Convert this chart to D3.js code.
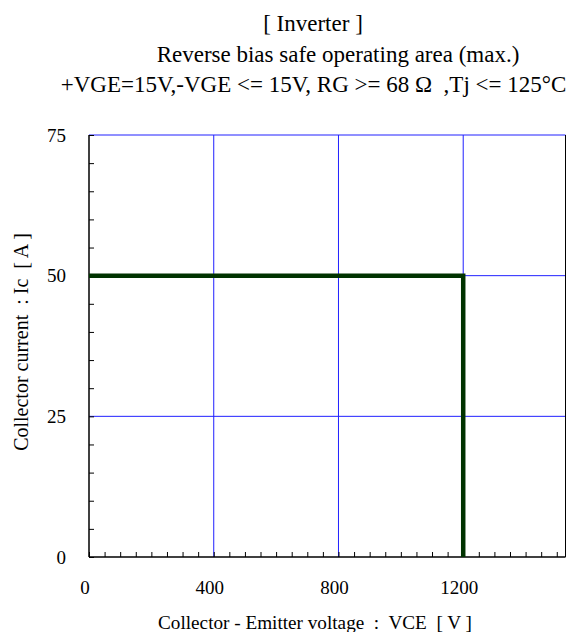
<!DOCTYPE html>
<html><head><meta charset="utf-8">
<script src="https://cdn.jsdelivr.net/npm/d3@7"></script>
<style>body{margin:0;background:#fff}svg{display:block}text{font-family:"Liberation Serif","Times New Roman",serif;fill:#000;white-space:pre}</style>
</head><body><svg id="c" width="570" height="632"></svg>
<script>
const titleLines = ["[ Inverter ]", "Reverse bias safe operating area (max.)", "+VGE=15V,-VGE <= 15V, RG >= 68 \u03A9  ,Tj <= 125\u00B0C"];
const xLabel = "Collector - Emitter voltage  :  VCE  [ V ]";
const yLabel = "Collector current  : Ic  [ A ]";
const xTicks = [0, 400, 800, 1200];
const yTicks = [0, 25, 50, 75];
const vce = [0, 1200, 1200];
const ic = [50, 50, 0];

const svg = d3.select("#c");
const L = 89, R = 565.5, T = 135, B = 557;
const x = d3.scaleLinear().domain([0, 1528]).range([L, R]);
const y = d3.scaleLinear().domain([0, 75]).range([B, T]);

// titles
const tpos = [[313, 31], [338, 62], [313.5, 92]];
titleLines.forEach((t, i) => svg.append("text").attr("x", tpos[i][0]).attr("y", tpos[i][1])
  .attr("text-anchor", "middle").attr("font-size", 23).text(t));

// grid
const g = svg.append("g");
g.selectAll(".gx").data(xTicks.filter(d => d > 0)).join("line")
  .attr("x1", d => x(d)).attr("x2", d => x(d)).attr("y1", T).attr("y2", B)
  .attr("stroke", "#2020ff").attr("stroke-width", 1);
g.selectAll(".gy").data(yTicks.filter(d => d > 0)).join("line")
  .attr("x1", L).attr("x2", R).attr("y1", d => y(d)).attr("y2", d => y(d))
  .attr("stroke", "#2020ff").attr("stroke-width", 1);

// right border
svg.append("line").attr("x1", R).attr("x2", R).attr("y1", T).attr("y2", B).attr("stroke", "#000").attr("stroke-width", 1);

// axes with minor inward ticks
const xAxis = d3.axisBottom(x).tickValues(d3.range(0, 1501, 50)).tickSize(-5).tickFormat("");
svg.append("g").attr("transform", `translate(0,${B})`).call(xAxis)
  .call(s => s.select(".domain").attr("d", `M${L},0H${R}`).attr("stroke-width", 1.5))
  .call(s => s.selectAll(".tick line").attr("stroke-width", 1));
const yAxis = d3.axisLeft(y).tickValues(d3.range(0, 76, 5)).tickSize(-5).tickFormat("");
svg.append("g").attr("transform", `translate(${L},0)`).call(yAxis)
  .call(s => s.select(".domain").attr("d", `M0,${B}V${T}`).attr("stroke-width", 1.5));

// tick labels
svg.selectAll(".xl").data(xTicks).join("text").attr("x", d => x(d) - 4).attr("y", 594)
  .attr("text-anchor", "middle").attr("font-size", 19).text(d => d);
svg.selectAll(".yl").data(yTicks).join("text").attr("x", 66).attr("y", d => y(d) + 6.5)
  .attr("text-anchor", "end").attr("font-size", 19).text(d => d);

// axis titles
svg.append("text").attr("x", 315).attr("y", 629).attr("text-anchor", "middle").attr("font-size", 19.2).text(xLabel);
svg.append("text").attr("transform", "translate(28,342) rotate(-90)").attr("text-anchor", "middle").attr("font-size", 20).text(yLabel);

// curve
svg.append("path").datum(d3.zip(vce, ic))
  .attr("d", d3.line().x(d => x(d[0])).y(d => y(d[1])))
  .attr("fill", "none").attr("stroke", "#003300").attr("stroke-width", 4.5).attr("stroke-linejoin", "miter");
</script></body></html>
